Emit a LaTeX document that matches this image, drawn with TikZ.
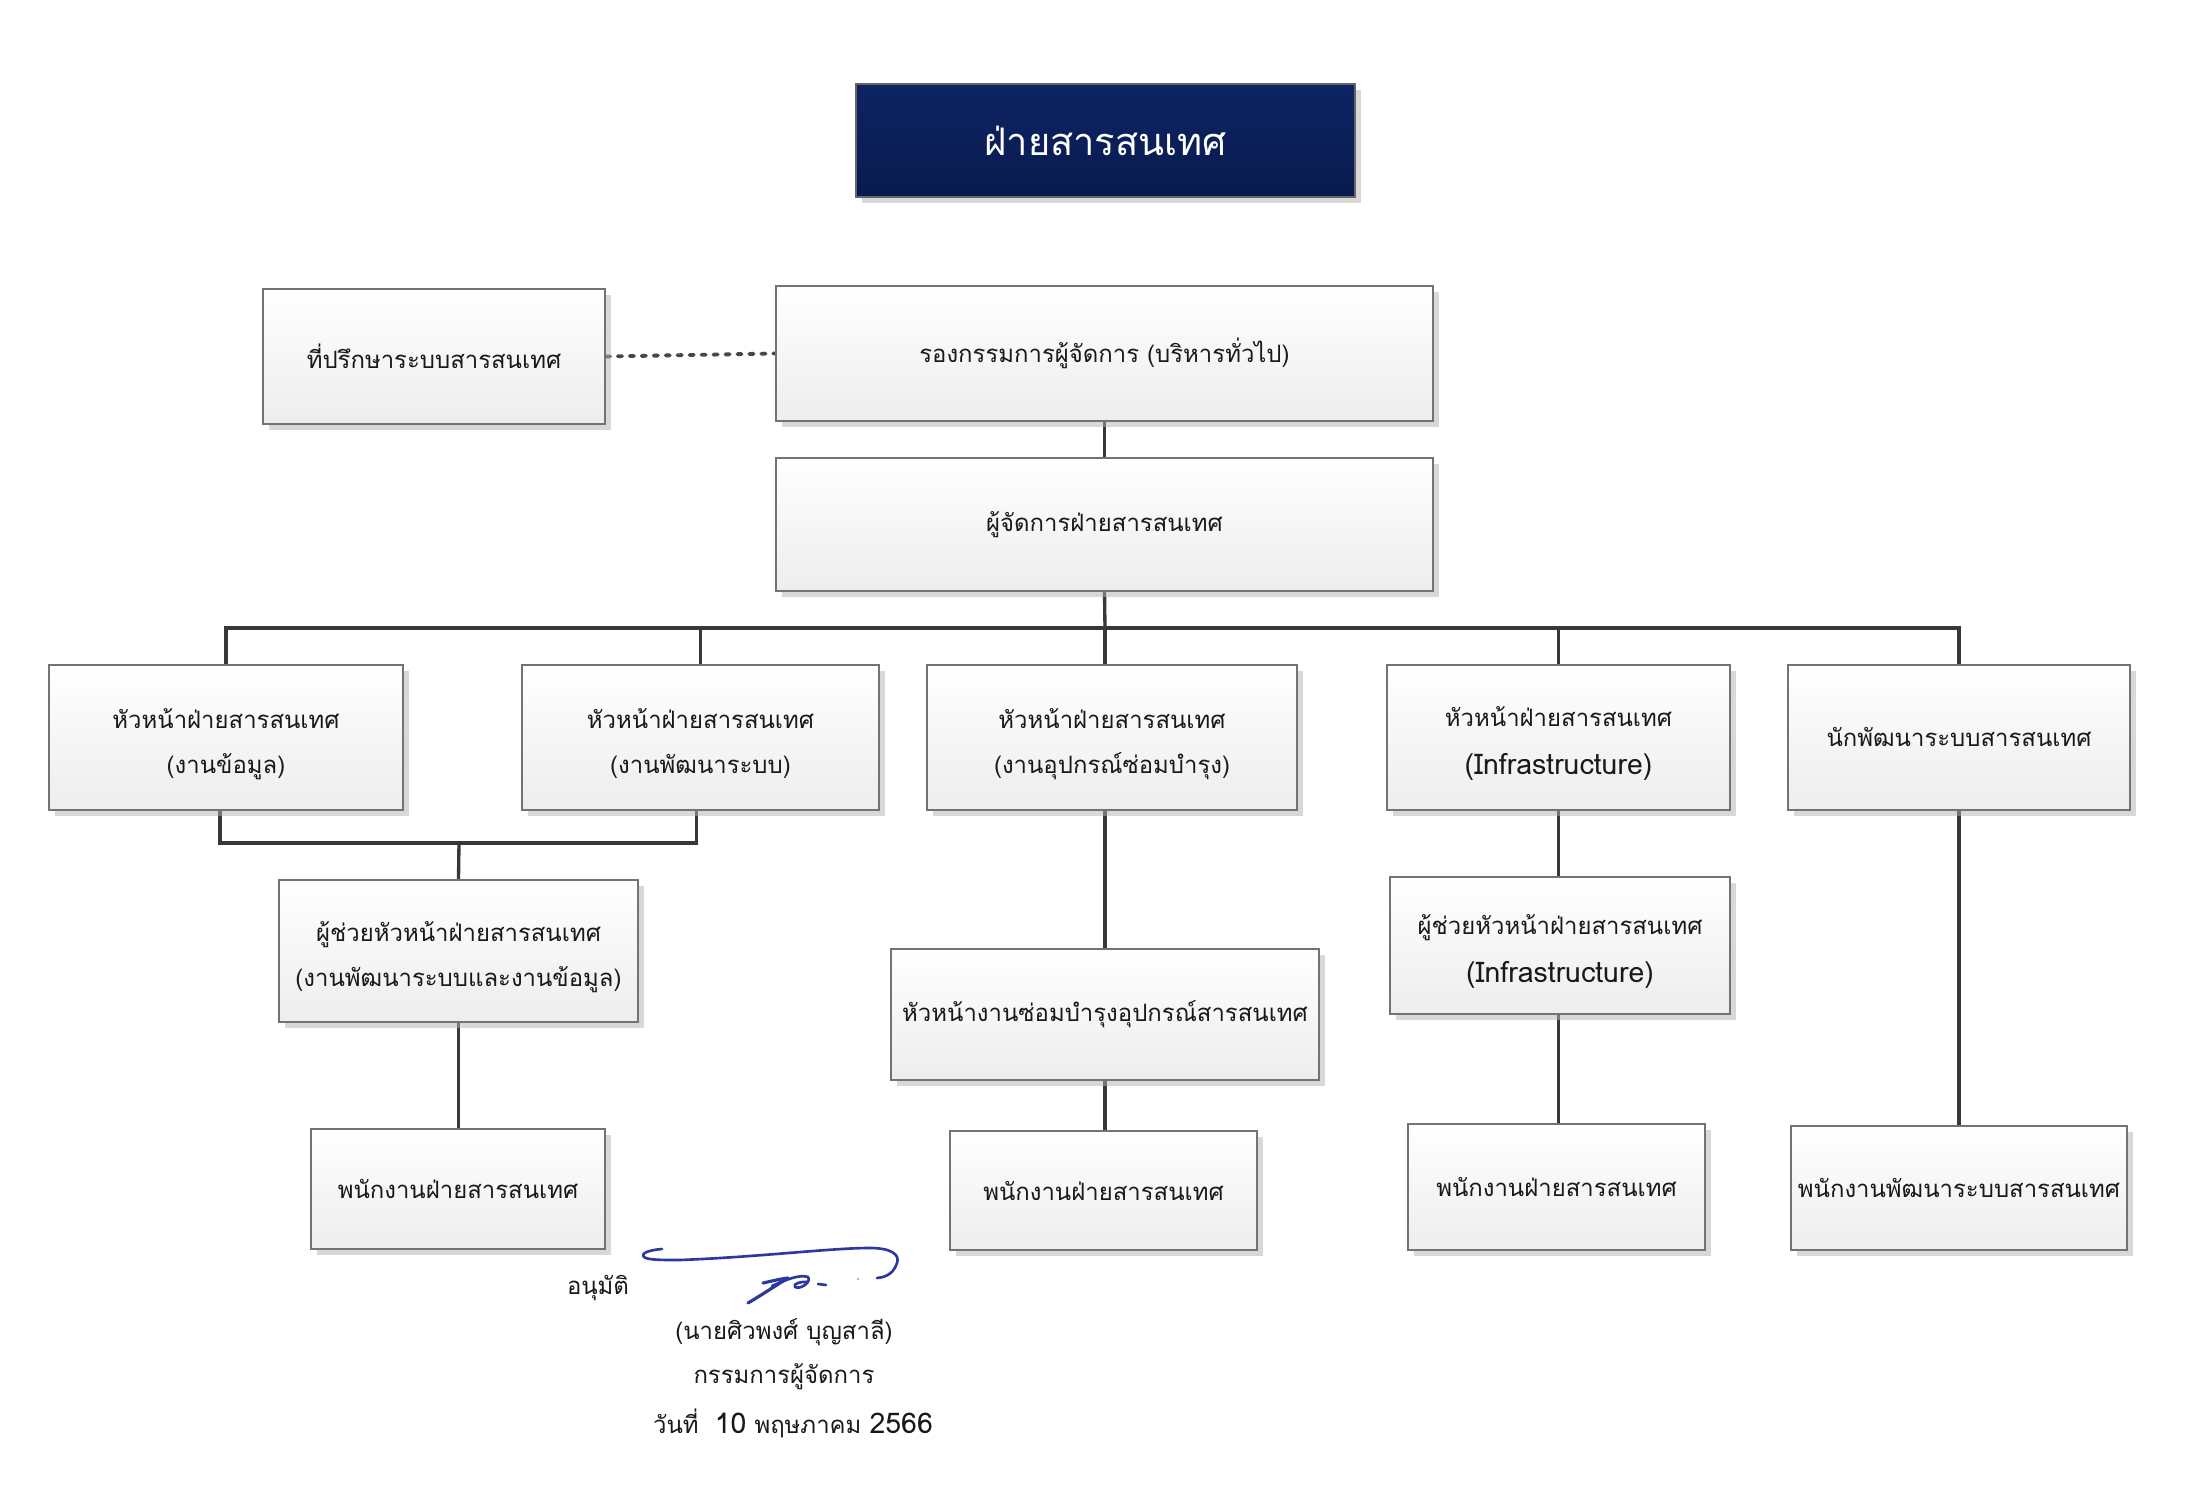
\documentclass[tikz,border=0pt]{standalone}
\usepackage{fontspec}
\setmainfont{Loma}[Script=Thai]
\usetikzlibrary{backgrounds,shadows}

\definecolor{navytop}{RGB}{14,36,100}
\definecolor{navybot}{RGB}{8,26,78}
\definecolor{inkblue}{RGB}{45,55,160}

% Latin words are set a little larger than the Thai around them
\newcommand{\lat}[1]{{\fontsize{8.1}{12.8}\selectfont #1}}
% invisible strut that lowers a two-line label a little
\newcommand{\lowfix}{\rule{0pt}{9.2pt}}

\tikzset{
  orgbox/.style={draw=black!55, line width=0.45pt, top color=white, bottom color=black!7,
    drop shadow={shadow xshift=0.06cm, shadow yshift=-0.06cm, fill=black!30, opacity=0.5},
    align=center, text=black!90, inner sep=0pt,
    font=\fontsize{6.8}{12.8}\selectfont},
  headbox/.style={draw=black!60, line width=0.45pt, top color=navytop, bottom color=navybot,
    drop shadow={shadow xshift=0.06cm, shadow yshift=-0.06cm, fill=black!30, opacity=0.5},
    align=center, text=white, inner sep=0pt, font=\fontsize{10.8}{13}\selectfont},
  link/.style={line width=0.95pt, draw=black!78},
  dotlink/.style={line width=1.1pt, draw=black!72, line cap=round, dash pattern=on 1.2pt off 2.2pt},
  sigtext/.style={text=black!90, font=\fontsize{6.8}{12}\selectfont, inner sep=0pt},
  sign/.style={draw=inkblue, line width=0.75pt, line cap=round, line join=round}
}

\begin{document}
\begin{tikzpicture}[x=0.01cm, y=-0.01cm]
\useasboundingbox (0,0) rectangle (2208,1488);

% heading
\node[headbox, minimum width=4.99cm, minimum height=1.13cm] (head) at (1105.5,140.5) {ฝ่ายสารสนเทศ};

% top management
\node[orgbox, minimum width=3.42cm, minimum height=1.35cm] (adv) at (434,356.5) {ที่ปรึกษาระบบสารสนเทศ};
\node[orgbox, minimum width=6.57cm, minimum height=1.35cm] (vp) at (1104.5,353.5) {รองกรรมการผู้จัดการ (บริหารทั่วไป)};
\node[orgbox, minimum width=6.57cm, minimum height=1.33cm] (mgr) at (1104.5,524.5) {ผู้จัดการฝ่ายสารสนเทศ};

% section heads
\node[orgbox, minimum width=3.54cm, minimum height=1.45cm] (b1) at (226,737.5) {\lowfix หัวหน้าฝ่ายสารสนเทศ\\(งานข้อมูล)};
\node[orgbox, minimum width=3.57cm, minimum height=1.45cm] (b2) at (700.5,737.5) {\lowfix หัวหน้าฝ่ายสารสนเทศ\\(งานพัฒนาระบบ)};
\node[orgbox, minimum width=3.70cm, minimum height=1.45cm] (b3) at (1112,737.5) {\lowfix หัวหน้าฝ่ายสารสนเทศ\\(งานอุปกรณ์ซ่อมบำรุง)};
\node[orgbox, minimum width=3.43cm, minimum height=1.45cm, font=\fontsize{6.8}{13.6}\selectfont] (b4) at (1558.5,737.5) {\lowfix หัวหน้าฝ่ายสารสนเทศ\\\lat{(Infrastructure)}};
\node[orgbox, minimum width=3.42cm, minimum height=1.45cm] (b5) at (1959,737.5) {นักพัฒนาระบบสารสนเทศ};

% assistants and unit head
\node[orgbox, minimum width=3.59cm, minimum height=1.42cm] (asa) at (458.5,951) {\lowfix ผู้ช่วยหัวหน้าฝ่ายสารสนเทศ\\(งานพัฒนาระบบและงานข้อมูล)};
\node[orgbox, minimum width=4.28cm, minimum height=1.31cm] (rep) at (1105,1014.5) {หัวหน้างานซ่อมบำรุงอุปกรณ์สารสนเทศ};
\node[orgbox, minimum width=3.40cm, minimum height=1.37cm, font=\fontsize{6.8}{13.6}\selectfont] (asb) at (1560,945.5) {\lowfix ผู้ช่วยหัวหน้าฝ่ายสารสนเทศ\\\lat{(Infrastructure)}};

% staff
\node[orgbox, minimum width=2.94cm, minimum height=1.20cm] (sta) at (458,1189) {พนักงานฝ่ายสารสนเทศ};
\node[orgbox, minimum width=3.07cm, minimum height=1.19cm] (stb) at (1103.5,1190.5) {พนักงานฝ่ายสารสนเทศ};
\node[orgbox, minimum width=2.97cm, minimum height=1.26cm] (stc) at (1556.5,1187) {พนักงานฝ่ายสารสนเทศ};
\node[orgbox, minimum width=3.36cm, minimum height=1.24cm] (std) at (1959,1188) {พนักงานพัฒนาระบบสารสนเทศ};

% connectors, kept behind the boxes
\begin{pgfonlayer}{background}
  \fill[white] (0,0) rectangle (2208,1488);
  \coordinate (bus) at (1105,628);
  \coordinate (join) at (459,843);
  \draw[dotlink] (adv.east) -- (vp.west);
  \draw[link] (vp.south) -- (mgr.north);
  \draw[link] (mgr.south) -- (bus);
  \draw[link] (b1.north) |- (bus) -| (b5.north);
  \draw[link] (b2.north) -- (b2.north |- bus);
  \draw[link] (bus) -- (bus |- b3.north);
  \draw[link] (b4.north) -- (b4.north |- bus);
  \draw[link] ([xshift=-0.06cm]b1.south) |- (join) -| ([xshift=-0.04cm]b2.south);
  \draw[link] (join) -- (asa.north);
  \draw[link] (asa.south) -- (asa.south |- sta.north);
  \draw[link] (b3.south -| bus) -- (rep.north);
  \draw[link] (rep.south) -- (rep.south |- stb.north);
  \draw[link] (b4.south) -- (b4.south |- asb.north);
  \draw[link] (asb.south -| b4.south) -- (b4.south |- stc.north);
  \draw[link] (b5.south) -- (std.north);
\end{pgfonlayer}

% approval block
\node[sigtext] (appr) at (598,1288) {อนุมัติ};
\node[sigtext] (name) at (784,1332) {(นายศิวพงศ์ บุญสาลี)};
\node[sigtext] (role) at (784,1377) {กรรมการผู้จัดการ};
\node[sigtext] (date) at (793,1423) {วันที่\ \ \lat{10} พฤษภาคม \lat{2566}};

% handwritten signature
\draw[sign] (662,1249) .. controls (650,1250) and (640,1253) .. (644,1257)
  .. controls (648,1260) and (660,1260) .. (680,1260)
  .. controls (760,1257) and (830,1248) .. (870,1248)
  .. controls (892,1248) and (900,1255) .. (897,1263)
  .. controls (894,1272) and (888,1277) .. (877,1278);
\draw[sign, line width=0.9pt] (763,1283) .. controls (772,1281) and (780,1279) .. (788,1278)
  .. controls (775,1286) and (760,1296) .. (748,1303);
\draw[sign] (772,1286) .. controls (785,1280) and (800,1274) .. (808,1277)
  .. controls (812,1282) and (800,1290) .. (795,1287)
  .. controls (792,1284) and (802,1281) .. (808,1282);
\draw[sign] (818,1284) -- (826,1285);
\fill[inkblue!50] (858,1279) circle (1.2);
\end{tikzpicture}
\end{document}
